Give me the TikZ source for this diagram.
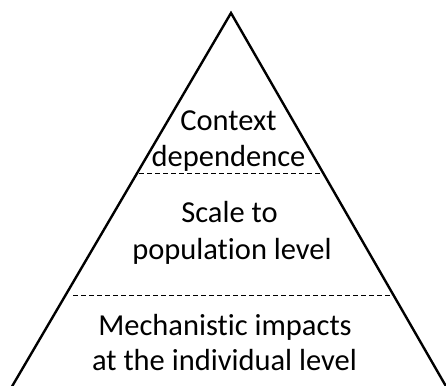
\documentclass[tikz,border=0pt]{standalone}
\usepackage{fontspec}
\setmainfont{Carlito}[Ligatures=NoCommon]
\begin{document}
\begin{tikzpicture}[x=1pt, y=1pt,
  tier/.style={anchor=base, inner sep=0pt, font=\fontsize{30.5}{36}\selectfont},
  divider/.style={line width=1pt, dash pattern=on 5pt off 3pt}]
  \useasboundingbox (0,0) rectangle (446,385);
  \clip (0,0) rectangle (446,385);
  % Outline
  \coordinate (apex) at (231, 372);
  \coordinate (base-l) at (7, -10);
  \coordinate (base-r) at (451, -10);
  \draw[line width=2.4pt, line join=miter] (base-l) -- (apex) -- (base-r);
  % Dividers
  \coordinate (d1-l) at (139, 211);
  \coordinate (d1-r) at (322, 211);
  \coordinate (d2-l) at (73, 89);
  \coordinate (d2-r) at (392, 89);
  \draw[divider] (d1-l) -- (d1-r);
  \draw[divider] (d2-l) -- (d2-r);
  % Labels
  \node (ctx-1) [tier] at (228.5, 254) {Context};
  \node (ctx-2) [tier] at (228.5, 218) {dependence};
  \node (pop-1) [tier] at (229.5, 162) {Scale to};
  \node (pop-2) [tier] at (232, 125) {population level};
  \node (ind-1) [tier] at (225, 50) {Mechanistic impacts};
  \node (ind-2) [tier] at (224.5, 15) {at the individual level};
\end{tikzpicture}
\end{document}
